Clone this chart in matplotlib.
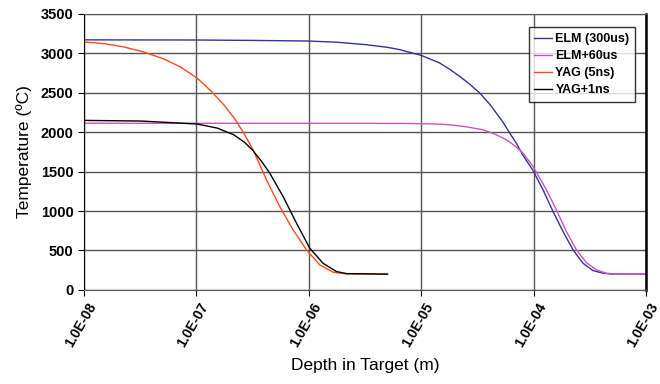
import numpy as np
import matplotlib
matplotlib.use("Agg")
import matplotlib.pyplot as plt
import matplotlib.transforms as mtransforms

plt.rcParams["font.family"] = ["Liberation Sans", "DejaVu Sans"]

# depth values given as log10(m), temperatures in degC
elm_logx = [-8.0, -7.0, -6.5, -6.0, -5.75, -5.5, -5.3, -5.191, -5.0, -4.836,
            -4.75, -4.658, -4.57, -4.48, -4.40, -4.332, -4.27, -4.213, -4.15,
            -4.095, -4.006, -3.917, -3.828, -3.739, -3.65, -3.561, -3.473,
            -3.384, -3.295, -3.0]
elm_temp = [3170, 3168, 3163, 3155, 3140, 3110, 3075, 3046, 2973, 2877,
            2800, 2707, 2610, 2496, 2370, 2242, 2120, 1988, 1850,
            1705, 1515, 1269, 994, 740, 508, 338, 245,
            212, 200, 200]

elm60_logx = [-8.0, -6.0, -5.191, -4.9, -4.747, -4.6, -4.45, -4.35, -4.243,
              -4.17, -4.095, -4.006, -3.947, -3.887, -3.798, -3.709, -3.62,
              -3.532, -3.443, -3.354, -3.265, -3.0]
elm60_temp = [2113, 2112, 2111, 2105, 2094, 2068, 2030, 1978, 1904,
              1830, 1735, 1565, 1420, 1269, 1015, 740, 508,
              347, 254, 212, 200, 200]

yag_logx = [-8.0, -7.822, -7.644, -7.467, -7.289, -7.14, -6.993, -6.874,
            -6.756, -6.652, -6.578, -6.495, -6.376, -6.258, -6.139, -6.02,
            -5.902, -5.784, -5.665, -5.30]
yag_temp = [3143, 3122, 3080, 3016, 2928, 2826, 2686, 2529,
            2348, 2157, 1988, 1777, 1396, 1057, 761, 508,
            317, 225, 203, 200]

yag1_logx = [-8.0, -7.496, -6.993, -6.815, -6.667, -6.57, -6.495, -6.42,
             -6.347, -6.228, -6.109, -5.991, -5.873, -5.754, -5.665, -5.30]
yag1_temp = [2149, 2141, 2103, 2052, 1967, 1870, 1765, 1630,
             1481, 1184, 846, 529, 338, 233, 207, 200]

x_ticks = [1e-8, 1e-7, 1e-6, 1e-5, 1e-4, 1e-3]
x_tick_labels = ["1.0E-08", "1.0E-07", "1.0E-06", "1.0E-05", "1.0E-04", "1.0E-03"]
y_ticks = [0, 500, 1000, 1500, 2000, 2500, 3000, 3500]

fig = plt.figure(figsize=(6.6, 3.84), dpi=100)
ax = fig.add_axes([0.127, 0.245, 0.852, 0.719])

ax.plot(np.power(10.0, elm_logx), elm_temp, color="#333399", lw=1.0, label="ELM (300us)")
ax.plot(np.power(10.0, elm60_logx), elm60_temp, color="#cc55bb", lw=1.0, label="ELM+60us")
ax.plot(np.power(10.0, yag_logx), yag_temp, color="#ff4a1c", lw=1.0, label="YAG (5ns)")
ax.plot(np.power(10.0, yag1_logx), yag1_temp, color="black", lw=1.0, label="YAG+1ns")

ax.set_xscale("log")
ax.set_xlim(1e-8, 1e-3)
ax.set_ylim(0, 3500)
ax.set_xticks(x_ticks)
ax.set_xticklabels(x_tick_labels)
ax.minorticks_off()
ax.set_yticks(y_ticks)

ax.grid(True, color="#555555", lw=1.0)
ax.set_axisbelow(True)
for side in ["top", "bottom"]:
    ax.spines[side].set_color("#555555")
ax.spines["left"].set_color("black")
ax.spines["right"].set_color("black")
ax.spines["right"].set_linewidth(1.8)

ax.tick_params(axis="both", direction="out", length=4, color="black")
for lbl in ax.get_yticklabels():
    lbl.set_fontweight("bold")
    lbl.set_fontsize(10.5)
shift = mtransforms.ScaledTranslation(0.03, 0, fig.dpi_scale_trans)
for lbl in ax.get_xticklabels():
    lbl.set_fontweight("bold")
    lbl.set_fontsize(10)
    lbl.set_rotation(60)
    lbl.set_ha("right")
    lbl.set_va("top")
    lbl.set_rotation_mode("anchor")
    lbl.set_transform(lbl.get_transform() + shift)

ax.set_xlabel("Depth in Target (m)", fontsize=12.5, labelpad=6)
ax.set_ylabel("Temperature (ºC)", fontsize=12.5, labelpad=6)

leg = ax.legend(loc="upper right", bbox_to_anchor=(0.985, 0.96), frameon=True,
                fancybox=False, prop={"weight": "bold", "size": 9},
                handlelength=1.4, handletextpad=0.3, borderpad=0.45,
                labelspacing=0.4, borderaxespad=0.2)
leg.get_frame().set_edgecolor("black")
leg.get_frame().set_linewidth(1.0)

fig.savefig("out.png", dpi=100)
